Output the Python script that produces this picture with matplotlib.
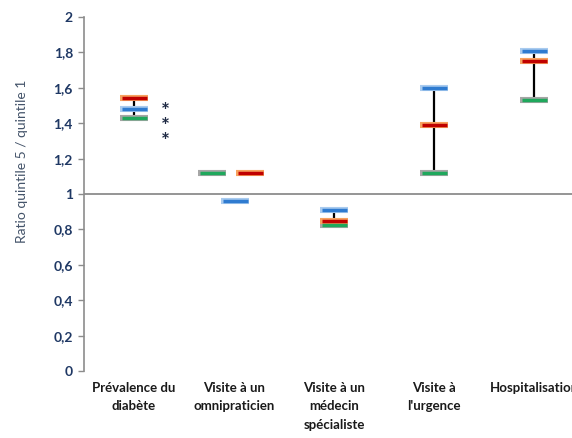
import matplotlib
matplotlib.use("Agg")
import matplotlib.pyplot as plt

categories = ["Prévalence du\ndiabète", "Visite à un\nomnipraticien", "Visite à un\nmédecin\nspécialiste",
              "Visite à\nl'urgence", "Hospitalisation"]
red_vals = [1.54, 1.12, 0.85, 1.39, 1.75]
blue_vals = [1.48, 0.96, 0.91, 1.60, 1.81]
green_vals = [1.43, 1.12, 0.825, 1.12, 1.53]
# horizontal offsets (category 2 markers are spread out)
red_off = [0, 0.16, 0, 0, 0]
blue_off = [0, 0.01, 0, 0, 0]
green_off = [0, -0.22, 0, 0, 0]
yticks = [0, 0.2, 0.4, 0.6, 0.8, 1, 1.2, 1.4, 1.6, 1.8, 2]
ytick_labels = ["0", "0,2", "0,4", "0,6", "0,8", "1", "1,2", "1,4", "1,6", "1,8", "2"]
stars_y = 1.38

plt.rcParams['font.family'] = ['Lato', 'DejaVu Sans']

W, H = 572, 438
fig = plt.figure(figsize=(W / 100, H / 100), dpi=100)
ax = fig.add_axes([84 / W, (H - 371) / H, 500 / W, (371 - 17) / H])
ax.set_xlim(-0.5, 4.5)
ax.set_ylim(0, 2)

for s in ["top", "right", "bottom"]:
    ax.spines[s].set_visible(False)
ax.spines["left"].set_color("#8c8c8c")
ax.spines["left"].set_linewidth(1.2)

ax.set_yticks(yticks)
ax.set_yticklabels(ytick_labels, fontsize=10, fontweight="bold", color="#1f3864")
ax.tick_params(axis="y", direction="out", length=4, width=1, color="#8c8c8c", pad=4)
ax.set_xticks(range(len(categories)))
ax.set_xticklabels(categories, fontsize=9.5, fontweight="bold", color="#1a1a1a", linespacing=1.62)
ax.tick_params(axis="x", length=0, pad=8)

ax.axhline(1, color="#8c8c8c", linewidth=1.3, zorder=1)

# range bars
for i in range(len(categories)):
    if red_off[i] == 0 and blue_off[i] == 0 and green_off[i] == 0:
        lo = min(red_vals[i], blue_vals[i], green_vals[i])
        hi = max(red_vals[i], blue_vals[i], green_vals[i])
        ax.plot([i, i], [lo, hi], color="black", linewidth=1.6, zorder=2)

def draw(vals, offs, core, halo):
    xs = [i + o for i, o in enumerate(offs)]
    ax.plot(xs, vals, linestyle="none", marker="_", markersize=19.5, mew=4.4, color=halo, zorder=3)
    ax.plot(xs, vals, linestyle="none", marker="_", markersize=18, mew=2.5, color=core, zorder=4)

draw(green_vals, green_off, "#1fa85c", "#a6a6a6")
draw(red_vals, red_off, "#c00000", "#f7a25f")
draw(blue_vals, blue_off, "#2f7bd0", "#a9cbef")

ax.text(0.31, stars_y, "*\n*\n*", ha="center", va="center", fontsize=15, fontweight="bold",
        color="#1f2a44", linespacing=0.68)

fig.text(22 / W, 1 - 161 / H, "Ratio quintile 5 / quintile 1", rotation=90, ha="center", va="center",
         fontsize=10, color="#44546a")

fig.savefig("out.png", dpi=100)
